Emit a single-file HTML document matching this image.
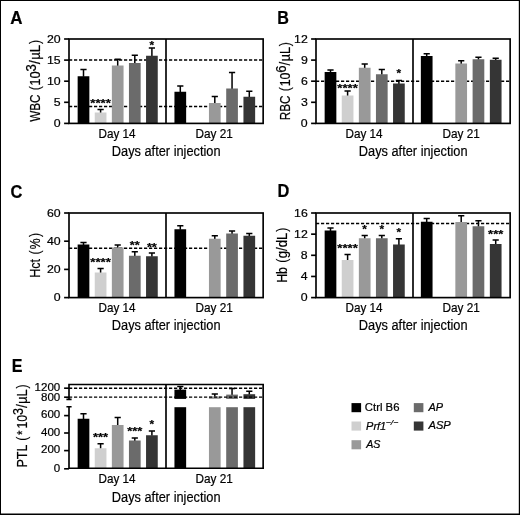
<!DOCTYPE html>
<html><head><meta charset="utf-8"><title>Figure</title>
<style>
html,body{margin:0;padding:0;background:#fff;}
#fig{position:relative;width:520px;height:515px;background:#fff;overflow:hidden;}
svg{position:absolute;left:0;top:0;will-change:transform;}
text{font-family:"Liberation Sans",Arial,Helvetica,sans-serif;fill:#000;stroke:#000;stroke-width:0.2px;}
</style></head><body>
<div id="fig">
<svg width="520" height="515" viewBox="0 0 520 515">
<rect x="0" y="0" width="520" height="515" fill="#fff"/>
<path d="M0 0H520V515H0Z M1 1V513.5H518.8V1Z" fill="#000" fill-rule="evenodd"/>
<text transform="translate(10.28 23.5) scale(0.9687 1)" font-size="17.5" font-weight="bold">A</text>
<path d="M69.0 60.0H263.15" stroke="#000" stroke-width="1.4" stroke-dasharray="3.2 1.8" fill="none"/>
<path d="M69.0 106.5H263.15" stroke="#000" stroke-width="1.4" stroke-dasharray="3.2 1.8" fill="none"/>
<path d="M83.5 76.75V69.5M80.4 69.5H86.6" stroke="#000" stroke-width="1.5" fill="none"/>
<rect x="77.65" y="76.25" width="11.7" height="47.15" fill="#000000"/>
<path d="M100.6 113.0V109.5M97.5 109.5H103.7" stroke="#000" stroke-width="1.5" fill="none"/>
<rect x="94.75" y="112.5" width="11.7" height="10.9" fill="#cfcfcf"/>
<path d="M117.7 66.0V59.25M114.6 59.25H120.8" stroke="#000" stroke-width="1.5" fill="none"/>
<rect x="111.85" y="65.5" width="11.7" height="57.9" fill="#999999"/>
<path d="M134.8 63.5V55.25M131.7 55.25H137.9" stroke="#000" stroke-width="1.5" fill="none"/>
<rect x="128.95" y="63" width="11.7" height="60.4" fill="#6b6b6b"/>
<path d="M151.9 56.25V48M148.8 48H155.0" stroke="#000" stroke-width="1.5" fill="none"/>
<rect x="146.05" y="55.75" width="11.7" height="67.65" fill="#353535"/>
<path d="M180.3 92.25V86M177.2 86H183.4" stroke="#000" stroke-width="1.5" fill="none"/>
<rect x="174.45" y="91.75" width="11.7" height="31.65" fill="#000000"/>
<path d="M214.8 103.5V96.5M211.7 96.5H217.9" stroke="#000" stroke-width="1.5" fill="none"/>
<rect x="208.95" y="103" width="11.7" height="20.4" fill="#999999"/>
<path d="M232.05 89.0V72.5M228.95 72.5H235.15" stroke="#000" stroke-width="1.5" fill="none"/>
<rect x="226.2" y="88.5" width="11.7" height="34.9" fill="#6b6b6b"/>
<path d="M249.3 97.25V91.25M246.2 91.25H252.4" stroke="#000" stroke-width="1.5" fill="none"/>
<rect x="243.45" y="96.75" width="11.7" height="26.65" fill="#353535"/>
<rect x="69.0" y="39.0" width="194.14999999999998" height="84.4" fill="none" stroke="#000" stroke-width="1.65"/>
<path d="M166.0 39.0V123.4" stroke="#000" stroke-width="1.65"/>
<path d="M64.1 39.0H69.0" stroke="#000" stroke-width="1.65"/>
<text transform="translate(46.99 42.55) scale(1.12 1)" font-size="11">20</text>
<path d="M64.1 60.1H69.0" stroke="#000" stroke-width="1.65"/>
<text transform="translate(47.02 63.65) scale(1.12 1)" font-size="11">15</text>
<path d="M64.1 81.2H69.0" stroke="#000" stroke-width="1.65"/>
<text transform="translate(46.99 84.75) scale(1.12 1)" font-size="11">10</text>
<path d="M64.1 102.3H69.0" stroke="#000" stroke-width="1.65"/>
<text transform="translate(53.86 105.85) scale(1.12 1)" font-size="11">5</text>
<path d="M64.1 123.4H69.0" stroke="#000" stroke-width="1.65"/>
<text transform="translate(53.82 126.95) scale(1.12 1)" font-size="11">0</text>
<text transform="translate(98.56 137.6) scale(0.959 1)" font-size="12.2">Day 14</text>
<text transform="translate(195.46 137.6) scale(0.9653 1)" font-size="12.2">Day 21</text>
<text transform="translate(111.78 155.6) scale(0.842 1)" font-size="15.2">Days after injection</text>
<text transform="translate(90.32 107.11) scale(1.1464 1)" font-size="11.5" font-weight="bold">****</text>
<text transform="translate(149.57 48.91) scale(1.0323 1)" font-size="11.5" font-weight="bold">*</text>
<g transform="translate(40.0 0) rotate(-90)">
<text transform="translate(-121.83 0) scale(0.7669 1)" font-size="15.3">WBC</text>
<text transform="translate(-90.17 0) scale(0.8 1)" font-size="15.3">(</text>
<text transform="translate(-85.77 0) scale(0.8453 1)" font-size="15.3">10</text>
<text transform="translate(-71.5 -3.9) scale(0.8669 1)" font-size="15.3">3</text>
<text transform="translate(-64.2 0) scale(0.957 1)" font-size="15.3">/</text>
<text transform="translate(-59.8 0) scale(0.8672 1)" font-size="15.3">µL</text>
<text transform="translate(-44.1 0) scale(0.8 1)" font-size="15.3">)</text>
</g>
<text transform="translate(277.15 23.5) scale(0.9236 1)" font-size="17.5" font-weight="bold">B</text>
<path d="M316.0 81.25H510.15" stroke="#000" stroke-width="1.4" stroke-dasharray="3.2 1.8" fill="none"/>
<path d="M330.5 72.5V70M327.4 70H333.6" stroke="#000" stroke-width="1.5" fill="none"/>
<rect x="324.65" y="72" width="11.7" height="51.4" fill="#000000"/>
<path d="M347.6 96.0V91M344.5 91H350.7" stroke="#000" stroke-width="1.5" fill="none"/>
<rect x="341.75" y="95.5" width="11.7" height="27.9" fill="#cfcfcf"/>
<path d="M364.7 68.25V64M361.6 64H367.8" stroke="#000" stroke-width="1.5" fill="none"/>
<rect x="358.85" y="67.75" width="11.7" height="55.65" fill="#999999"/>
<path d="M381.8 74.75V69.5M378.7 69.5H384.9" stroke="#000" stroke-width="1.5" fill="none"/>
<rect x="375.95" y="74.25" width="11.7" height="49.15" fill="#6b6b6b"/>
<path d="M398.9 84.0V80.5M395.8 80.5H402.0" stroke="#000" stroke-width="1.5" fill="none"/>
<rect x="393.05" y="83.5" width="11.7" height="39.9" fill="#353535"/>
<path d="M426.7 56.5V53.75M423.6 53.75H429.8" stroke="#000" stroke-width="1.5" fill="none"/>
<rect x="420.85" y="56" width="11.7" height="67.4" fill="#000000"/>
<path d="M461.2 64.0V60.75M458.1 60.75H464.3" stroke="#000" stroke-width="1.5" fill="none"/>
<rect x="455.35" y="63.5" width="11.7" height="59.9" fill="#999999"/>
<path d="M478.45 59.75V57.25M475.35 57.25H481.55" stroke="#000" stroke-width="1.5" fill="none"/>
<rect x="472.6" y="59.25" width="11.7" height="64.15" fill="#6b6b6b"/>
<path d="M495.7 60.25V58.25M492.6 58.25H498.8" stroke="#000" stroke-width="1.5" fill="none"/>
<rect x="489.85" y="59.75" width="11.7" height="63.65" fill="#353535"/>
<rect x="316.0" y="39.0" width="194.14999999999998" height="84.4" fill="none" stroke="#000" stroke-width="1.65"/>
<path d="M413.0 39.0V123.4" stroke="#000" stroke-width="1.65"/>
<path d="M311.1 39.0H316.0" stroke="#000" stroke-width="1.65"/>
<text transform="translate(294.11 42.55) scale(1.12 1)" font-size="11">12</text>
<path d="M311.1 60.1H316.0" stroke="#000" stroke-width="1.65"/>
<text transform="translate(300.92 63.65) scale(1.12 1)" font-size="11">9</text>
<path d="M311.1 81.2H316.0" stroke="#000" stroke-width="1.65"/>
<text transform="translate(300.89 84.75) scale(1.12 1)" font-size="11">6</text>
<path d="M311.1 102.3H316.0" stroke="#000" stroke-width="1.65"/>
<text transform="translate(300.89 105.85) scale(1.12 1)" font-size="11">3</text>
<path d="M311.1 123.4H316.0" stroke="#000" stroke-width="1.65"/>
<text transform="translate(300.82 126.95) scale(1.12 1)" font-size="11">0</text>
<text transform="translate(345.56 137.6) scale(0.959 1)" font-size="12.2">Day 14</text>
<text transform="translate(442.46 137.6) scale(0.9653 1)" font-size="12.2">Day 21</text>
<text transform="translate(358.78 155.6) scale(0.842 1)" font-size="15.2">Days after injection</text>
<text transform="translate(337.32 92.41) scale(1.1464 1)" font-size="11.5" font-weight="bold">****</text>
<text transform="translate(396.57 77.41) scale(1.0323 1)" font-size="11.5" font-weight="bold">*</text>
<g transform="translate(290.0 0) rotate(-90)">
<text transform="translate(-120.24 0) scale(0.7666 1)" font-size="15.3">RBC</text>
<text transform="translate(-91.27 0) scale(0.8 1)" font-size="15.3">(</text>
<text transform="translate(-86.33 0) scale(0.8125 1)" font-size="15.3">10</text>
<text transform="translate(-72.8 -3.9) scale(0.855 1)" font-size="15.3">6</text>
<text transform="translate(-65.4 0) scale(0.8637 1)" font-size="15.3">/</text>
<text transform="translate(-61.36 0) scale(0.8293 1)" font-size="15.3">µL</text>
<text transform="translate(-46.2 0) scale(0.8 1)" font-size="15.3">)</text>
</g>
<text transform="translate(10.59 197.5) scale(0.9378 1)" font-size="17.5" font-weight="bold">C</text>
<path d="M69.0 248.25H263.15" stroke="#000" stroke-width="1.4" stroke-dasharray="3.2 1.8" fill="none"/>
<path d="M83.5 245.0V242.5M80.4 242.5H86.6" stroke="#000" stroke-width="1.5" fill="none"/>
<rect x="77.65" y="244.5" width="11.7" height="53.1" fill="#000000"/>
<path d="M100.6 273.0V268.5M97.5 268.5H103.7" stroke="#000" stroke-width="1.5" fill="none"/>
<rect x="94.75" y="272.5" width="11.7" height="25.1" fill="#cfcfcf"/>
<path d="M117.7 248.0V245M114.6 245H120.8" stroke="#000" stroke-width="1.5" fill="none"/>
<rect x="111.85" y="247.5" width="11.7" height="50.1" fill="#999999"/>
<path d="M134.8 256.25V251.75M131.7 251.75H137.9" stroke="#000" stroke-width="1.5" fill="none"/>
<rect x="128.95" y="255.75" width="11.7" height="41.85" fill="#6b6b6b"/>
<path d="M151.9 256.75V253M148.8 253H155.0" stroke="#000" stroke-width="1.5" fill="none"/>
<rect x="146.05" y="256.25" width="11.7" height="41.35" fill="#353535"/>
<path d="M180.3 229.75V225.75M177.2 225.75H183.4" stroke="#000" stroke-width="1.5" fill="none"/>
<rect x="174.45" y="229.25" width="11.7" height="68.35" fill="#000000"/>
<path d="M214.8 239.25V235.75M211.7 235.75H217.9" stroke="#000" stroke-width="1.5" fill="none"/>
<rect x="208.95" y="238.75" width="11.7" height="58.85" fill="#999999"/>
<path d="M232.05 234.0V231M228.95 231H235.15" stroke="#000" stroke-width="1.5" fill="none"/>
<rect x="226.2" y="233.5" width="11.7" height="64.1" fill="#6b6b6b"/>
<path d="M249.3 236.25V233.5M246.2 233.5H252.4" stroke="#000" stroke-width="1.5" fill="none"/>
<rect x="243.45" y="235.75" width="11.7" height="61.85" fill="#353535"/>
<rect x="69.0" y="213.0" width="194.14999999999998" height="84.6" fill="none" stroke="#000" stroke-width="1.65"/>
<path d="M166.0 213.0V297.6" stroke="#000" stroke-width="1.65"/>
<path d="M64.1 213.0H69.0" stroke="#000" stroke-width="1.65"/>
<text transform="translate(46.99 216.55) scale(1.12 1)" font-size="11">60</text>
<path d="M64.1 241.2H69.0" stroke="#000" stroke-width="1.65"/>
<text transform="translate(46.99 244.75) scale(1.12 1)" font-size="11">40</text>
<path d="M64.1 269.4H69.0" stroke="#000" stroke-width="1.65"/>
<text transform="translate(46.99 272.95) scale(1.12 1)" font-size="11">20</text>
<path d="M64.1 297.6H69.0" stroke="#000" stroke-width="1.65"/>
<text transform="translate(53.82 301.15) scale(1.12 1)" font-size="11">0</text>
<text transform="translate(98.56 311.8) scale(0.959 1)" font-size="12.2">Day 14</text>
<text transform="translate(195.46 311.8) scale(0.9653 1)" font-size="12.2">Day 21</text>
<text transform="translate(111.78 329.8) scale(0.842 1)" font-size="15.2">Days after injection</text>
<text transform="translate(90.32 266.41) scale(1.1464 1)" font-size="11.5" font-weight="bold">****</text>
<text transform="translate(129.82 249.11) scale(1.1072 1)" font-size="11.5" font-weight="bold">**</text>
<text transform="translate(146.92 250.81) scale(1.1072 1)" font-size="11.5" font-weight="bold">**</text>
<g transform="translate(40.0 0) rotate(-90)">
<text transform="translate(-277.81 0) scale(0.8222 1)" font-size="15.3">Hct</text>
<text transform="translate(-254.62 0) scale(0.8 1)" font-size="15.3">(</text>
<text transform="translate(-249.33 0) scale(0.7971 1)" font-size="15.3">%</text>
<text transform="translate(-236.95 0) scale(0.8 1)" font-size="15.3">)</text>
</g>
<text transform="translate(277.54 197.4) scale(0.9346 1)" font-size="17.5" font-weight="bold">D</text>
<path d="M316.0 223.5H510.15" stroke="#000" stroke-width="1.4" stroke-dasharray="3.2 1.8" fill="none"/>
<path d="M330.5 231.0V228M327.4 228H333.6" stroke="#000" stroke-width="1.5" fill="none"/>
<rect x="324.65" y="230.5" width="11.7" height="67.1" fill="#000000"/>
<path d="M347.6 260.5V254.5M344.5 254.5H350.7" stroke="#000" stroke-width="1.5" fill="none"/>
<rect x="341.75" y="260" width="11.7" height="37.6" fill="#cfcfcf"/>
<path d="M364.7 238.75V235.5M361.6 235.5H367.8" stroke="#000" stroke-width="1.5" fill="none"/>
<rect x="358.85" y="238.25" width="11.7" height="59.35" fill="#999999"/>
<path d="M381.8 238.75V235.5M378.7 235.5H384.9" stroke="#000" stroke-width="1.5" fill="none"/>
<rect x="375.95" y="238.25" width="11.7" height="59.35" fill="#6b6b6b"/>
<path d="M398.9 245.0V238.75M395.8 238.75H402.0" stroke="#000" stroke-width="1.5" fill="none"/>
<rect x="393.05" y="244.5" width="11.7" height="53.1" fill="#353535"/>
<path d="M426.7 222.25V218.5M423.6 218.5H429.8" stroke="#000" stroke-width="1.5" fill="none"/>
<rect x="420.85" y="221.75" width="11.7" height="75.85" fill="#000000"/>
<path d="M461.2 222.5V215.75M458.1 215.75H464.3" stroke="#000" stroke-width="1.5" fill="none"/>
<rect x="455.35" y="222" width="11.7" height="75.6" fill="#999999"/>
<path d="M478.45 226.75V220.75M475.35 220.75H481.55" stroke="#000" stroke-width="1.5" fill="none"/>
<rect x="472.6" y="226.25" width="11.7" height="71.35" fill="#6b6b6b"/>
<path d="M495.7 244.5V240M492.6 240H498.8" stroke="#000" stroke-width="1.5" fill="none"/>
<rect x="489.85" y="244" width="11.7" height="53.6" fill="#353535"/>
<rect x="316.0" y="213.0" width="194.14999999999998" height="84.6" fill="none" stroke="#000" stroke-width="1.65"/>
<path d="M413.0 213.0V297.6" stroke="#000" stroke-width="1.65"/>
<path d="M311.1 213.0H316.0" stroke="#000" stroke-width="1.65"/>
<text transform="translate(294.05 216.55) scale(1.12 1)" font-size="11">16</text>
<path d="M311.1 234.15H316.0" stroke="#000" stroke-width="1.65"/>
<text transform="translate(294.11 237.7) scale(1.12 1)" font-size="11">12</text>
<path d="M311.1 255.3H316.0" stroke="#000" stroke-width="1.65"/>
<text transform="translate(300.86 258.85) scale(1.12 1)" font-size="11">8</text>
<path d="M311.1 276.45H316.0" stroke="#000" stroke-width="1.65"/>
<text transform="translate(300.7 280.0) scale(1.12 1)" font-size="11">4</text>
<path d="M311.1 297.6H316.0" stroke="#000" stroke-width="1.65"/>
<text transform="translate(300.82 301.15) scale(1.12 1)" font-size="11">0</text>
<text transform="translate(345.56 311.8) scale(0.959 1)" font-size="12.2">Day 14</text>
<text transform="translate(442.46 311.8) scale(0.9653 1)" font-size="12.2">Day 21</text>
<text transform="translate(358.78 329.8) scale(0.842 1)" font-size="15.2">Days after injection</text>
<text transform="translate(337.32 252.21) scale(1.1464 1)" font-size="11.5" font-weight="bold">****</text>
<text transform="translate(362.37 233.41) scale(1.0323 1)" font-size="11.5" font-weight="bold">*</text>
<text transform="translate(379.47 233.41) scale(1.0323 1)" font-size="11.5" font-weight="bold">*</text>
<text transform="translate(396.57 235.91) scale(1.0323 1)" font-size="11.5" font-weight="bold">*</text>
<text transform="translate(488.07 237.71) scale(1.1345 1)" font-size="11.5" font-weight="bold">***</text>
<g transform="translate(286.8 0) rotate(-90)">
<text transform="translate(-282.79 0) scale(0.8075 1)" font-size="15.3">Hb</text>
<text transform="translate(-262.87 0) scale(0.8 1)" font-size="15.3">(</text>
<text transform="translate(-258.22 0) scale(0.8575 1)" font-size="15.3">g/dL</text>
<text transform="translate(-231.75 0) scale(0.8 1)" font-size="15.3">)</text>
</g>
<text transform="translate(11.75 371.9) scale(0.9204 1)" font-size="17.5" font-weight="bold">E</text>
<path d="M83.5 419.25V413.75M80.4 413.75H86.6" stroke="#000" stroke-width="1.5" fill="none"/>
<rect x="77.65" y="418.75" width="11.7" height="49.45" fill="#000000"/>
<path d="M100.6 448.75V443.75M97.5 443.75H103.7" stroke="#000" stroke-width="1.5" fill="none"/>
<rect x="94.75" y="448.25" width="11.7" height="19.95" fill="#cfcfcf"/>
<path d="M117.7 425.5V417.5M114.6 417.5H120.8" stroke="#000" stroke-width="1.5" fill="none"/>
<rect x="111.85" y="425" width="11.7" height="43.2" fill="#999999"/>
<path d="M134.8 441.0V438M131.7 438H137.9" stroke="#000" stroke-width="1.5" fill="none"/>
<rect x="128.95" y="440.5" width="11.7" height="27.7" fill="#6b6b6b"/>
<path d="M151.9 435.75V431M148.8 431H155.0" stroke="#000" stroke-width="1.5" fill="none"/>
<rect x="146.05" y="435.25" width="11.7" height="32.95" fill="#353535"/>
<rect x="174.45" y="407.2" width="11.7" height="61.0" fill="#000000"/>
<rect x="208.95" y="407.2" width="11.7" height="61.0" fill="#999999"/>
<rect x="226.2" y="407.2" width="11.7" height="61.0" fill="#6b6b6b"/>
<rect x="243.45" y="407.2" width="11.7" height="61.0" fill="#353535"/>
<path d="M180.3 390.1V386.4M177.2 386.4H183.4" stroke="#000" stroke-width="1.5" fill="none"/>
<rect x="174.45" y="389.6" width="11.7" height="9.3" fill="#000000"/>
<path d="M214.8 396.9V394M211.7 394H217.9" stroke="#000" stroke-width="1.5" fill="none"/>
<rect x="208.95" y="396.4" width="11.7" height="2.5" fill="#999999"/>
<path d="M232.05 395.1V388.6M228.95 388.6H235.15" stroke="#000" stroke-width="1.5" fill="none"/>
<rect x="226.2" y="394.6" width="11.7" height="4.3" fill="#6b6b6b"/>
<path d="M249.3 394.7V391.3M246.2 391.3H252.4" stroke="#000" stroke-width="1.5" fill="none"/>
<rect x="243.45" y="394.2" width="11.7" height="4.7" fill="#353535"/>
<path d="M69.0 388.2H263.15" stroke="#000" stroke-width="1.4" stroke-dasharray="3.2 1.8" fill="none"/>
<path d="M69.0 397.1H263.15" stroke="#000" stroke-width="1.4" stroke-dasharray="3.2 1.8" fill="none"/>
<path d="M69.0 399.3V384.5H263.15V468.2H69.0V406.7M166.0 384.5V468.2M66.4 399.3H71.6M66.4 406.7H71.6" fill="none" stroke="#000" stroke-width="1.65"/>
<path d="M64.1 388.2H69.0" stroke="#000" stroke-width="1.65"/>
<text transform="translate(34.56 390.65) scale(1.05 1)" font-size="11">1200</text>
<path d="M64.1 397.2H69.0" stroke="#000" stroke-width="1.65"/>
<text transform="translate(40.97 400.6) scale(1.05 1)" font-size="11">800</text>
<path d="M64.1 415.6H69.0" stroke="#000" stroke-width="1.65"/>
<text transform="translate(40.97 418.35) scale(1.05 1)" font-size="11">600</text>
<path d="M64.1 433.0H69.0" stroke="#000" stroke-width="1.65"/>
<text transform="translate(40.97 435.75) scale(1.05 1)" font-size="11">400</text>
<path d="M64.1 450.6H69.0" stroke="#000" stroke-width="1.65"/>
<text transform="translate(40.97 453.35) scale(1.05 1)" font-size="11">200</text>
<path d="M64.1 468.8H69.0" stroke="#000" stroke-width="1.65"/>
<text transform="translate(53.82 471.55) scale(1.05 1)" font-size="11">0</text>
<text transform="translate(98.56 483.1) scale(0.959 1)" font-size="12.2">Day 14</text>
<text transform="translate(195.46 483.1) scale(0.9653 1)" font-size="12.2">Day 21</text>
<text transform="translate(111.78 501.5) scale(0.842 1)" font-size="15.2">Days after injection</text>
<text transform="translate(92.97 441.31) scale(1.1345 1)" font-size="11.5" font-weight="bold">***</text>
<text transform="translate(127.17 435.11) scale(1.1345 1)" font-size="11.5" font-weight="bold">***</text>
<text transform="translate(149.57 428.01) scale(1.0323 1)" font-size="11.5" font-weight="bold">*</text>
<g transform="translate(27.0 0) rotate(-90)">
<text transform="translate(-467.6 0) scale(0.8177 1)" font-size="15.3">PTL</text>
<text transform="translate(-440.77 0) scale(0.8 1)" font-size="15.3">(</text>
<text transform="translate(-434.99 0) scale(0.75 1)" font-size="15.3">*</text>
<text transform="translate(-428.62 0) scale(0.8059 1)" font-size="15.3">10</text>
<text transform="translate(-414.97 -3.9) scale(0.8256 1)" font-size="15.3">3</text>
<text transform="translate(-407.9 0) scale(0.887 1)" font-size="15.3">/</text>
<text transform="translate(-403.86 0) scale(0.8293 1)" font-size="15.3">µL</text>
<text transform="translate(-388.6 0) scale(0.8 1)" font-size="15.3">)</text>
</g>
<rect x="351.5" y="403.1" width="9.6" height="9.1" fill="#000000"/>
<text transform="translate(364.83 410.7) scale(1.1342 1)" font-size="10.0">Ctrl B6</text>
<rect x="351.5" y="421.5" width="9.6" height="9.1" fill="#cfcfcf"/>
<text transform="translate(366.07 429.5) scale(1.0988 1)" font-size="10.0" font-style="italic">Prf1</text>
<text transform="translate(385.76 424.9) scale(1.2275 1)" font-size="7.0" font-style="italic">−/−</text>
<rect x="351.5" y="440.2" width="9.6" height="9.1" fill="#999999"/>
<text transform="translate(366.13 447.8) scale(1.0691 1)" font-size="10.0" font-style="italic">AS</text>
<rect x="413.8" y="403.1" width="9.6" height="9.1" fill="#6b6b6b"/>
<text transform="translate(428.45 410.7) scale(1.0942 1)" font-size="10.0" font-style="italic">AP</text>
<rect x="413.8" y="421.5" width="9.6" height="9.1" fill="#353535"/>
<text transform="translate(428.46 429.1) scale(1.1136 1)" font-size="10.0" font-style="italic">ASP</text>
</svg></div></body></html>
